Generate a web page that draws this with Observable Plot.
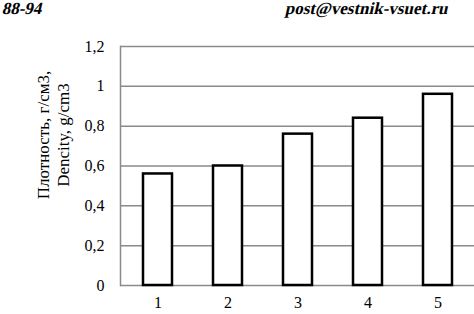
<!DOCTYPE html>
<html>
<head>
<meta charset="utf-8">
<script src="https://cdn.jsdelivr.net/npm/d3@7"></script>
<script src="https://cdn.jsdelivr.net/npm/@observablehq/plot@0.6"></script>
<style>
  html, body { margin: 0; padding: 0; background: white; }
  #wrap { position: relative; width: 474px; height: 314px; overflow: hidden; background: white; }
  #chart { position: absolute; left: 0; top: 0; }
  .hdr { position: absolute; top: 0px; font-family: "Liberation Serif", "Times New Roman", serif; font-weight: bold; font-style: normal; font-size: 17px; line-height: 17px; color: #000; white-space: nowrap; transform: skewX(-13deg); transform-origin: 0 100%; }
  #ylabel { position: absolute; left: 54px; top: 135px; transform: translate(-50%, -50%) rotate(-90deg); font-family: "Liberation Serif", "Times New Roman", serif; font-size: 17px; line-height: 20px; text-align: center; white-space: nowrap; color: #000; }
</style>
</head>
<body>
<div id="wrap">
  <div id="chart"></div>
  <div class="hdr" style="left:1px;">88-94</div>
  <div class="hdr" style="right:27px;">post@vestnik-vsuet.ru</div>
  <div id="ylabel">Плотность, г/см3,<br>Dencity, g/cm3</div>
</div>
<script>
const categories = ["1", "2", "3", "4", "5"];
const values = [0.56, 0.60, 0.76, 0.84, 0.96];
const yTicks = [0, 0.2, 0.4, 0.6, 0.8, 1, 1.2];

const data = categories.map((c, i) => ({cat: c, value: values[i]}));
const fmt = d => String(d).replace(".", ",");

const plot = Plot.plot({
  width: 474,
  height: 314,
  marginLeft: 120,
  marginRight: 0,
  marginTop: 46,
  marginBottom: 29,
  style: {fontFamily: "Liberation Serif, serif", fontSize: "16px", background: "white", color: "black"},
  x: {domain: categories, paddingInner: 0.59, paddingOuter: 0.295, label: null, tickSize: 0, tickPadding: 11},
  y: {domain: [0, 1.2], ticks: yTicks, tickFormat: fmt, label: null, tickSize: 0, tickPadding: 16},
  marks: [
    Plot.gridY(yTicks, {stroke: "#8a8a8a", strokeOpacity: 1, strokeWidth: 1.5}),
    Plot.frame({anchor: "left", stroke: "#8a8a8a", strokeWidth: 1.5}),
    Plot.barY(data, {x: "cat", y: "value", fill: "white", stroke: "black", strokeWidth: 2.5}),
    Plot.axisX({tickSize: 0, tickPadding: 11, fill: "black"}),
    Plot.axisY({ticks: yTicks, tickFormat: fmt, tickSize: 0, tickPadding: 16, fill: "black"})
  ]
});
document.getElementById("chart").appendChild(plot);
</script>
</body>
</html>
